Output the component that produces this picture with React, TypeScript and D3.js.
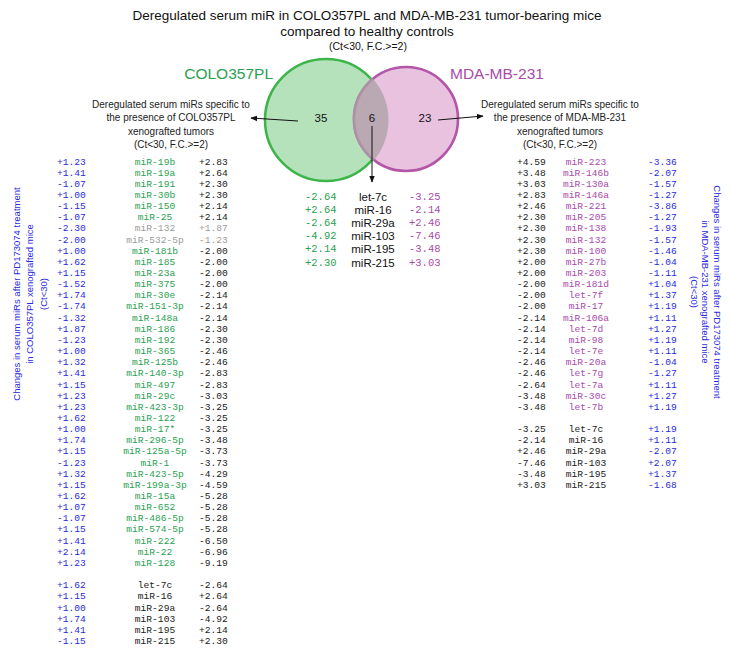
import React from 'react';
import * as d3 from 'd3';

// ---------- text content ----------
const titleLines = [
  'Deregulated serum miR in COLO357PL and MDA-MB-231 tumor-bearing mice',
  'compared to healthy controls',
];
const titleNote = '(Ct<30, F.C.>=2)';
const setLabels = ['COLO357PL', 'MDA-MB-231'];
const setCounts = ['35', '6', '23'];
const annotLeft = [
  'Deregulated serum miRs specific to',
  'the presence of COLO357PL',
  'xenografted tumors',
  '(Ct<30, F.C.>=2)',
];
const annotRight = [
  'Deregulated serum miRs specific to',
  'the presence of MDA-MB-231',
  'xenografted tumors',
  '(Ct<30, F.C.>=2)',
];
const sideLeft = [
  'Changes in serum miRs after PD173074 treatment',
  'in COLO357PL xenografted mice',
  '(Ct<30)',
];
const sideRight = [
  'Changes in serum miRs after PD173074 treatment',
  'in MDA-MB-231 xenografted mice',
  '(Ct<30)',
];

// ---------- COLO357PL-specific miRs ----------
const coloNames = [
  'miR-19b', 'miR-19a', 'miR-191', 'miR-30b', 'miR-150', 'miR-25', 'miR-132', 'miR-532-5p',
  'miR-181b', 'miR-185', 'miR-23a', 'miR-375', 'miR-30e', 'miR-151-3p', 'miR-148a', 'miR-186',
  'miR-192', 'miR-365', 'miR-125b', 'miR-140-3p', 'miR-497', 'miR-29c', 'miR-423-3p', 'miR-122',
  'miR-17*', 'miR-296-5p', 'miR-125a-5p', 'miR-1', 'miR-423-5p', 'miR-199a-3p', 'miR-15a',
  'miR-652', 'miR-486-5p', 'miR-574-5p', 'miR-222', 'miR-22', 'miR-128',
];
const coloTreat = [
  1.23, 1.41, -1.07, 1.0, -1.15, -1.07, -2.3, -2.0, 1.0, 1.62, 1.15, -1.52, 1.74, -1.74, -1.32,
  1.87, -1.23, 1.0, 1.32, 1.41, 1.15, 1.23, 1.23, 1.62, 1.0, 1.74, 1.15, -1.23, 1.32, 1.15, 1.62,
  1.07, -1.07, 1.15, 1.41, 2.14, 1.23,
];
const coloFC = [
  2.83, 2.64, 2.3, 2.3, 2.14, 2.14, 1.87, -1.23, -2.0, -2.0, -2.0, -2.0, -2.14, -2.14, -2.14,
  -2.3, -2.3, -2.46, -2.46, -2.83, -2.83, -3.03, -3.25, -3.25, -3.25, -3.48, -3.73, -3.73, -4.29,
  -4.59, -5.28, -5.28, -5.28, -5.28, -6.5, -6.96, -9.19,
];
const coloGrayed = ['miR-132', 'miR-532-5p'];

// ---------- MDA-MB-231-specific miRs ----------
const mdaNames = [
  'miR-223', 'miR-146b', 'miR-130a', 'miR-146a', 'miR-221', 'miR-205', 'miR-138', 'miR-132',
  'miR-100', 'miR-27b', 'miR-203', 'miR-181d', 'let-7f', 'miR-17', 'miR-106a', 'let-7d', 'miR-98',
  'let-7e', 'miR-20a', 'let-7g', 'let-7a', 'miR-30c', 'let-7b',
];
const mdaFC = [
  4.59, 3.48, 3.03, 2.83, 2.46, 2.3, 2.3, 2.3, 2.3, 2.0, 2.0, -2.0, -2.0, -2.0, -2.14, -2.14,
  -2.14, -2.14, -2.46, -2.46, -2.64, -3.48, -3.48,
];
const mdaTreat = [
  -3.36, -2.07, -1.57, -1.27, -3.86, -1.27, -1.93, -1.57, -1.46, -1.04, -1.11, 1.04, 1.37, 1.19,
  1.11, 1.27, 1.19, 1.11, -1.04, -1.27, 1.11, 1.27, 1.19,
];

// ---------- common miRs ----------
const commonNames = ['let-7c', 'miR-16', 'miR-29a', 'miR-103', 'miR-195', 'miR-215'];
const commonColoFC = [-2.64, 2.64, -2.64, -4.92, 2.14, 2.3];
const commonMdaFC = [-3.25, -2.14, 2.46, -7.46, -3.48, 3.03];
const commonColoTreat = [1.62, 1.15, 1.0, 1.74, 1.41, -1.15];
const commonMdaTreat = [1.19, 1.11, -2.07, 2.07, 1.37, -1.68];

// ---------- styles ----------
const C = {
  green: '#2aa152',
  purple: '#aa4aaa',
  blue: '#2a2ae0',
  black: '#1a1a1a',
  gray: '#9c9c9c',
  gFill: '#b6e2bb',
  gStroke: '#3db54c',
  pFill: '#e8c2df',
  pStroke: '#b356a8',
  lens: '#ada2a6',
};
const MONO = "'Liberation Mono', 'Courier New', monospace";
const SANS = "'Liberation Sans', Arial, sans-serif";

const fmt = d3
  .formatLocale({ decimal: '.', thousands: ',', grouping: [3], currency: ['$', ''], minus: '-' })
  .format('+.2f');

export default function App() {
  const W = 731;
  const H = 655;

  // row position scales
  const rowY = d3.scaleLinear().domain([0, 1]).range([162, 173.15]);
  const rowC = d3.scaleLinear().domain([0, 1]).range([197, 210.1]);

  const coloCommonStart = coloNames.length + 1;
  const mdaCommonStart = mdaNames.length + 1;

  // column x positions
  const L = { v1: 57, name: 155, v2: 199 };
  const R = { v1: 517, name: 586, v2: 648 };
  const M = { v1: 305, name: 373, v2: 409 };

  const venn = {
    g: { cx: 326, cy: 120, r: 61 },
    p: { cx: 406, cy: 119, r: 52 },
  };

  const listFont = 9.6;

  return (
    <svg
      width={W}
      height={H}
      style={{ position: 'absolute', left: 0, top: 0, background: '#fff' }}
      xmlns="http://www.w3.org/2000/svg"
    >
      <defs>
        <marker id="arr" viewBox="0 0 10 10" refX="9" refY="5" markerWidth="7" markerHeight="7" orient="auto">
          <path d="M0,1 L10,5 L0,9 z" fill="#111" />
        </marker>
        <clipPath id="clipG">
          <circle cx={venn.g.cx} cy={venn.g.cy} r={venn.g.r + 1.5} />
        </clipPath>
      </defs>

      {/* title */}
      <g fontFamily={SANS} fill="#111" textAnchor="middle">
        {titleLines.map((t, i) => (
          <text key={t} x={367} y={15 + i * 16.5} fontSize={13.5} dominantBaseline="central">
            {t}
          </text>
        ))}
        <text x={368} y={46} fontSize={10.5} dominantBaseline="central">
          {titleNote}
        </text>
      </g>

      {/* venn */}
      <circle cx={venn.g.cx} cy={venn.g.cy} r={venn.g.r} fill={C.gFill} stroke={C.gStroke} strokeWidth={2.6} />
      <circle cx={venn.p.cx} cy={venn.p.cy} r={venn.p.r} fill={C.pFill} stroke={C.pStroke} strokeWidth={2.6} />
      <circle
        cx={venn.p.cx}
        cy={venn.p.cy}
        r={venn.p.r + 1.3}
        fill={C.lens}
        fillOpacity={0.78}
        clipPath="url(#clipG)"
      />
      <text x={273} y={73} fontFamily={SANS} fontSize={15.5} fill={C.green} textAnchor="end" dominantBaseline="central">
        {setLabels[0]}
      </text>
      <text x={450} y={73} fontFamily={SANS} fontSize={15.5} fill={C.purple} textAnchor="start" dominantBaseline="central">
        {setLabels[1]}
      </text>
      <g fontFamily={SANS} fontSize={11.5} fill="#111" textAnchor="middle" dominantBaseline="central">
        <text x={321} y={118}>{setCounts[0]}</text>
        <text x={372} y={118}>{setCounts[1]}</text>
        <text x={425} y={118}>{setCounts[2]}</text>
      </g>

      {/* arrows */}
      <g stroke="#111" strokeWidth={1}>
        <line x1={298} y1={121} x2={251} y2={118} markerEnd="url(#arr)" />
        <line x1={438} y1={120} x2={483} y2={116} markerEnd="url(#arr)" />
        <line x1={372} y1={126} x2={372} y2={182} markerEnd="url(#arr)" />
      </g>

      {/* annotations */}
      <g fontFamily={SANS} fontSize={10} fill="#222" textAnchor="middle" dominantBaseline="central">
        {annotLeft.map((t, i) => (
          <text key={'al' + i} x={171} y={104 + i * 13.5}>
            {t}
          </text>
        ))}
        {annotRight.map((t, i) => (
          <text key={'ar' + i} x={560} y={104 + i * 13.5}>
            {t}
          </text>
        ))}
      </g>

      {/* side labels */}
      <g fontFamily={SANS} fontSize={9.5} fill={C.blue} textAnchor="middle" dominantBaseline="central">
        {sideLeft.map((t, i) => (
          <text key={'sl' + i} transform={`translate(${16 + i * 13.5},294) rotate(-90)`}>
            {t}
          </text>
        ))}
        {sideRight.map((t, i) => (
          <text key={'sr' + i} transform={`translate(${717 - i * 11.5},292) rotate(90)`}>
            {t}
          </text>
        ))}
      </g>

      {/* centre table */}
      <g dominantBaseline="central">
        {commonNames.map((n, i) => (
          <g key={'c' + n}>
            <text x={M.v1} y={rowC(i)} fontFamily={MONO} fontSize={10.5} fill={C.green}>
              {fmt(commonColoFC[i])}
            </text>
            <text x={M.name} y={rowC(i)} fontFamily={SANS} fontSize={11.5} fill="#111" textAnchor="middle">
              {n}
            </text>
            <text x={M.v2} y={rowC(i)} fontFamily={MONO} fontSize={10.5} fill={C.purple}>
              {fmt(commonMdaFC[i])}
            </text>
          </g>
        ))}
      </g>

      {/* left list */}
      <g fontFamily={MONO} fontSize={listFont} dominantBaseline="central">
        {coloNames.map((n, i) => {
          const grayed = coloGrayed.includes(n);
          return (
            <g key={'l' + n}>
              <text x={L.v1} y={rowY(i)} fill={C.blue}>
                {fmt(coloTreat[i])}
              </text>
              <text x={L.name} y={rowY(i)} fill={grayed ? C.gray : C.green} textAnchor="middle">
                {n}
              </text>
              <text x={L.v2} y={rowY(i)} fill={grayed ? C.gray : C.black}>
                {fmt(coloFC[i])}
              </text>
            </g>
          );
        })}
        {commonNames.map((n, i) => (
          <g key={'lc' + n}>
            <text x={L.v1} y={rowY(coloCommonStart + i)} fill={C.blue}>
              {fmt(commonColoTreat[i])}
            </text>
            <text x={L.name} y={rowY(coloCommonStart + i)} fill={C.black} textAnchor="middle">
              {n}
            </text>
            <text x={L.v2} y={rowY(coloCommonStart + i)} fill={C.black}>
              {fmt(commonColoFC[i])}
            </text>
          </g>
        ))}
      </g>

      {/* right list */}
      <g fontFamily={MONO} fontSize={listFont} dominantBaseline="central">
        {mdaNames.map((n, i) => (
          <g key={'r' + n}>
            <text x={R.v1} y={rowY(i)} fill={C.black}>
              {fmt(mdaFC[i])}
            </text>
            <text x={R.name} y={rowY(i)} fill={C.purple} textAnchor="middle">
              {n}
            </text>
            <text x={R.v2} y={rowY(i)} fill={C.blue}>
              {fmt(mdaTreat[i])}
            </text>
          </g>
        ))}
        {commonNames.map((n, i) => (
          <g key={'rc' + n}>
            <text x={R.v1} y={rowY(mdaCommonStart + i)} fill={C.black}>
              {fmt(commonMdaFC[i])}
            </text>
            <text x={R.name} y={rowY(mdaCommonStart + i)} fill={C.black} textAnchor="middle">
              {n}
            </text>
            <text x={R.v2} y={rowY(mdaCommonStart + i)} fill={C.blue}>
              {fmt(commonMdaTreat[i])}
            </text>
          </g>
        ))}
      </g>
    </svg>
  );
}
